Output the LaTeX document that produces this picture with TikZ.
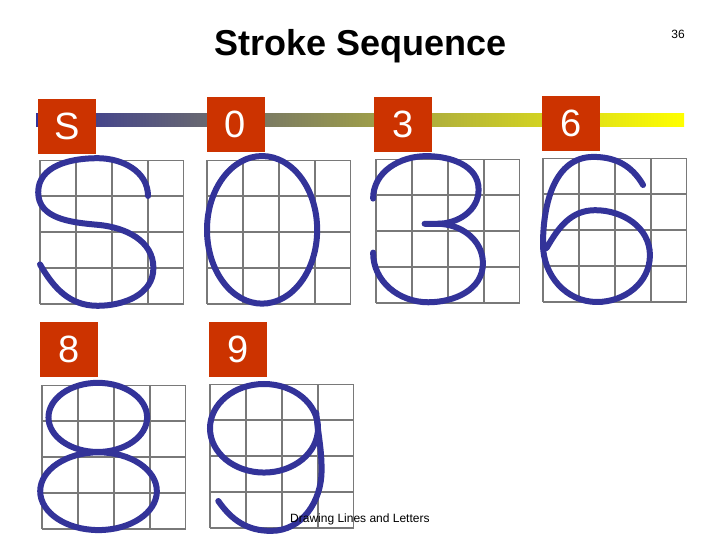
\documentclass[tikz,border=0pt]{standalone}
\usepackage{fontspec}
\setmainfont{Liberation Sans}
\begin{document}
\begin{tikzpicture}[x=1pt,y=1pt,
  gridc/.style={draw=gray!95!black,line width=1.5pt},
  stroke/.style={draw=strokeblue,line width=6pt,line cap=round},
  lab/.style={fill=labred,text=white,minimum width=58pt,minimum height=55pt,inner sep=0pt,font=\fontsize{38}{38}\selectfont}]
\definecolor{strokeblue}{HTML}{333399}
\definecolor{labred}{HTML}{CC3300}
\useasboundingbox (0,0) rectangle (720,540);
\node[font=\bfseries\fontsize{36}{36}\selectfont] (title) at (361,494) {Stroke Sequence};
\node[font=\fontsize{12}{12}\selectfont] (pg) at (678,506) {36};
\shade[left color=strokeblue,middle color=gray!80!yellow,right color=yellow] (36,413) rectangle (684,426);
\begin{scope}[shift={(40,236)},scale=36]
 \draw[gridc] (0,0) grid[step=1] (4,4);
 \draw[stroke] (3,3) to[out=90,in=0] (1.6,4.05) to[out=180,in=90] (-0.05,3.1) to[out=-90,in=175] (1.6,2.2) to[out=-5,in=90] (3.15,1) to[out=-90,in=0] (1.6,-0.05) to[out=180,in=-60] (0,1.1);
\end{scope}
\begin{scope}[shift={(207,236)},scale=36]
 \draw[gridc] (0,0) grid[step=1] (4,4);
 \draw[stroke] (1.53,2.06) ellipse [x radius=1.53,y radius=2.05];
\end{scope}
\begin{scope}[shift={(376,237)},scale=36]
 \draw[gridc] (0,0) grid[step=1] (4,4);
 \draw[stroke] (-0.08,2.9) to[out=90,in=180] (1.4,4.08) to[out=0,in=90] (2.85,3.15) to[out=-90,in=0] (1.7,2.2) -- (1.35,2.2);
 \draw[stroke] (1.7,2.2) to[out=0,in=90] (2.97,1.1) to[out=-90,in=0] (1.45,0.02) to[out=180,in=-90] (-0.08,1.4);
\end{scope}
\begin{scope}[shift={(543,238)},scale=36]
 \draw[gridc] (0,0) grid[step=1] (4,4);
 \draw[stroke] (2.78,3.25) to[out=120,in=0] (1.4,4.03) to[out=180,in=90] (0,1.6) to[out=-90,in=180] (1.5,0) to[out=0,in=-90] (2.97,1.3) to[out=90,in=0] (1.45,2.55) to[out=180,in=60] (0.1,1.5);
\end{scope}
\begin{scope}[shift={(42,11)},scale=36]
 \draw[gridc] (0,0) grid[step=1] (4,4);
 \draw[stroke] (1.55,3.1) ellipse [x radius=1.37,y radius=0.96];
 \draw[stroke] (1.57,1.05) ellipse [x radius=1.62,y radius=1.08];
\end{scope}
\begin{scope}[shift={(210,12)},scale=36]
 \draw[gridc] (0,0) grid[step=1] (4,4);
 \draw[stroke] (1.5,2.77) ellipse [x radius=1.5,y radius=1.23];
 \draw[stroke] (2.95,3.2) to[out=-85,in=90] (3.1,1.6) to[out=-90,in=0] (1.7,-0.08) to[out=180,in=-55] (0.23,0.75);
\end{scope}
\node[lab] (lS) at (67,413.5) {S};
\node[lab] (l0) at (235.5,415.5) {0};
\node[lab] (l3) at (403,415.5) {3};
\node[lab] (l6) at (571,416.5) {6};
\node[lab] (l8) at (69,190.5) {8};
\node[lab] (l9) at (238,190.5) {9};
\node[font=\fontsize{12}{12}\selectfont,anchor=west,inner sep=0pt] (foot) at (290,21) {Drawing Lines and Letters};
\end{tikzpicture}
\end{document}
